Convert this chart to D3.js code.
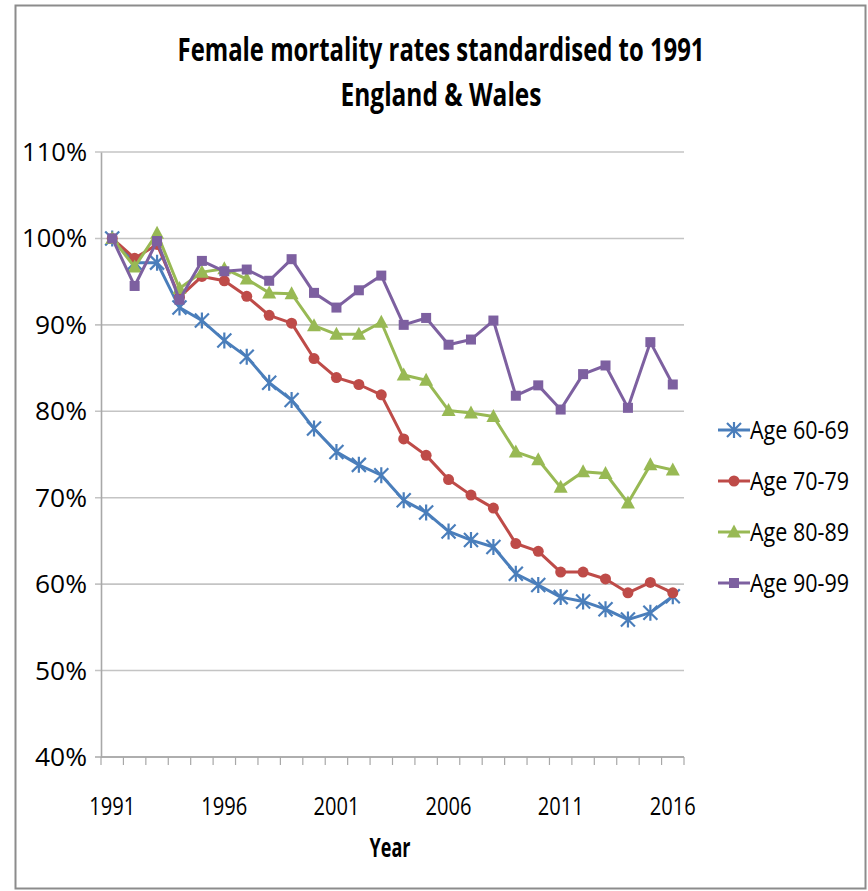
<!DOCTYPE html>
<html>
<head>
<meta charset="utf-8">
<script src="https://cdn.jsdelivr.net/npm/d3@7"></script>
<style>
  html, body { margin: 0; padding: 0; background: #fff; }
  svg { display: block; }
  text { font-family: "Open Sans", "Noto Sans", sans-serif; fill: #000; }
</style>
</head>
<body>
<svg id="chart" width="868" height="891"></svg>
<script>
const years = d3.range(1991, 2017);
const seriesNames = ["Age 60-69", "Age 70-79", "Age 80-89", "Age 90-99"];
const age6069 = [100, 97.2, 97.2, 92.0, 90.5, 88.2, 86.3, 83.3, 81.3, 78.0, 75.3, 73.8, 72.6, 69.7, 68.3, 66.1, 65.1, 64.3, 61.2, 59.9, 58.5, 58.0, 57.1, 55.9, 56.7, 58.6];
const age7079 = [100, 97.7, 99.3, 93.2, 95.6, 95.1, 93.3, 91.1, 90.2, 86.1, 83.9, 83.1, 81.9, 76.8, 74.9, 72.1, 70.3, 68.8, 64.7, 63.8, 61.4, 61.4, 60.6, 59.0, 60.2, 59.0];
const age8089 = [100, 96.7, 100.6, 94.2, 96.1, 96.5, 95.3, 93.7, 93.6, 89.9, 88.9, 88.9, 90.3, 84.2, 83.6, 80.1, 79.8, 79.4, 75.3, 74.4, 71.2, 73.0, 72.8, 69.4, 73.8, 73.2];
const age9099 = [100, 94.5, 99.7, 92.9, 97.4, 96.2, 96.4, 95.1, 97.6, 93.7, 92.0, 94.0, 95.7, 90.0, 90.8, 87.7, 88.3, 90.5, 81.8, 83.0, 80.2, 84.3, 85.3, 80.4, 88.0, 83.1];
const yTicks = [40, 50, 60, 70, 80, 90, 100, 110];
const xTickLabels = [1991, 1996, 2001, 2006, 2011, 2016];
const titleLines = ["Female mortality rates standardised to 1991", "England & Wales"];
const xTitle = "Year";

const colors = ["#4a7ebb", "#be4b48", "#98b954", "#7d60a0"];
const markers = ["star", "circle", "triangle", "square"];
const allSeries = [age6069, age7079, age8089, age9099];

const svg = d3.select("#chart");

// draws a text squeezed horizontally (narrow Calibri-like look) via a real transform
function narrowText(parent, str, px, py, size, width, anchor, bold) {
  const t = parent.append("text").attr("x", 0).attr("y", 0)
    .attr("font-size", size).attr("text-anchor", anchor || "start")
    .attr("font-weight", bold ? "bold" : "normal").text(str);
  const natural = t.node().getComputedTextLength();
  const s = width / natural;
  t.attr("transform", `translate(${px},${py}) scale(${s},1)`);
  return t;
}

// outer frame
svg.append("rect").attr("x", 15.5).attr("y", 5.5).attr("width", 850).attr("height", 883)
  .attr("fill", "#fff").attr("stroke", "#8c8c8c").attr("stroke-width", 2);

const pL = 101, pR = 684, pT = 152, pB = 757;
const x = d3.scalePoint().domain(years).range([pL, pR]).padding(0.5);
const y = d3.scaleLinear().domain([40, 110]).range([pB, pT]);

// gridlines
const grid = svg.append("g");
grid.selectAll("line").data(yTicks).join("line")
  .attr("x1", pL - 6).attr("x2", pR)
  .attr("y1", d => y(d)).attr("y2", d => y(d))
  .attr("stroke", d => d === 40 ? "#a8a8a8" : "#c4c4c4").attr("stroke-width", 1.6);

// y axis
const yAxis = d3.axisLeft(y).tickValues(yTicks).tickSize(0).tickFormat(() => "");
const gy = svg.append("g").attr("transform", `translate(${pL},0)`).call(yAxis);
gy.select(".domain").attr("stroke", "#a8a8a8").attr("stroke-width", 1.6);
gy.selectAll(".tick text").remove();
yTicks.forEach(v => {
  narrowText(svg, v + "%", pL - 14, y(v) + 9, 26, v >= 100 ? 65 : 52, "end", false);
});

// x axis: ticks at band boundaries
const step = x.step();
const boundaries = d3.range(years.length + 1).map(i => pL + i * step);
const gx = svg.append("g");
gx.append("line").attr("x1", pL).attr("x2", pR).attr("y1", pB).attr("y2", pB)
  .attr("stroke", "#a8a8a8").attr("stroke-width", 1.6);
gx.selectAll("line.tk").data(boundaries).join("line").attr("class", "tk")
  .attr("x1", d => d).attr("x2", d => d).attr("y1", pB).attr("y2", pB + 8)
  .attr("stroke", "#a8a8a8").attr("stroke-width", 1.2);
xTickLabels.forEach(yr => {
  narrowText(gx, String(yr), x(yr), 815, 26, 46, "middle", false);
});

// axis title
narrowText(svg, xTitle, 390, 857, 26, 41, "middle", true);

// chart title
narrowText(svg, titleLines[0], 441, 61, 32, 527, "middle", true);
narrowText(svg, titleLines[1], 441, 106, 32, 201, "middle", true);

function drawMarker(g, type, color) {
  if (type === "star") {
    const s = 7;
    g.append("path").attr("d", `M${-s},${-s}L${s},${s}M${-s},${s}L${s},${-s}M0,${-s - 1}L0,${s + 1}`)
      .attr("stroke", color).attr("stroke-width", 2.2).attr("fill", "none");
  } else if (type === "circle") {
    g.append("circle").attr("r", 5.5).attr("fill", color);
  } else if (type === "triangle") {
    g.append("path").attr("d", "M0,-7.5L7,5.5L-7,5.5Z").attr("fill", color);
  } else {
    g.append("rect").attr("x", -5).attr("y", -5).attr("width", 10).attr("height", 10).attr("fill", color);
  }
}

const line = d3.line().x((d, i) => x(years[i])).y(d => y(d));

allSeries.forEach((vals, si) => {
  const g = svg.append("g");
  g.append("path").datum(vals).attr("d", line).attr("fill", "none")
    .attr("stroke", colors[si]).attr("stroke-width", 3).attr("stroke-linejoin", "round");
  vals.forEach((v, i) => {
    const mg = g.append("g").attr("transform", `translate(${x(years[i])},${y(v)})`);
    drawMarker(mg, markers[si], colors[si]);
  });
});

// legend
const legendY = [430, 481, 532, 583];
seriesNames.forEach((name, si) => {
  const g = svg.append("g").attr("transform", `translate(0,${legendY[si]})`);
  g.append("line").attr("x1", 718).attr("x2", 750).attr("y1", 0).attr("y2", 0)
    .attr("stroke", colors[si]).attr("stroke-width", 3);
  const mg = g.append("g").attr("transform", "translate(734,0)");
  drawMarker(mg, markers[si], colors[si]);
  narrowText(g, name, 750, 9, 26, 99, "start", false);
});
</script>
</body>
</html>
